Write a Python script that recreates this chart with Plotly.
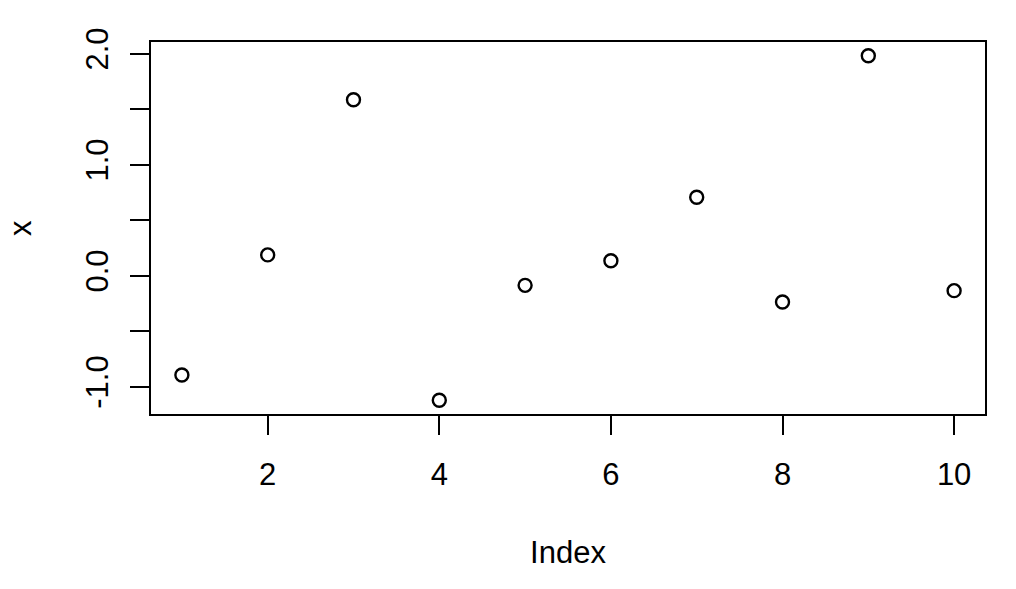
import plotly.graph_objects as go

index = [1, 2, 3, 4, 5, 6, 7, 8, 9, 10]
x_vals = [-0.895, 0.187, 1.585, -1.122, -0.087, 0.135, 0.707, -0.237, 1.981, -0.135]

x_ticks = [2, 4, 6, 8, 10]
y_ticks = [-1.0, -0.5, 0.0, 0.5, 1.0, 1.5, 2.0]
y_ticktext = ["-1.0", "", "0.0", "", "1.0", "", "2.0"]

x_title = "Index"
y_title = "x"

font = "Liberation Sans, Arial, sans-serif"

fig = go.Figure()
fig.add_trace(go.Scatter(
    x=index, y=x_vals, mode="markers",
    marker=dict(symbol="circle-open", size=13, color="black", line=dict(width=2.4, color="black")),
    showlegend=False, hoverinfo="x+y",
))

dx = (max(index) - min(index)) * 0.04
dy = (max(x_vals) - min(x_vals)) * 0.04

# page body adds an 8px offset; margins compensate so the box lands at 151..985 x 42..414
fig.update_layout(
    width=1016, height=589,
    margin=dict(l=143, r=39, t=34, b=183),
    paper_bgcolor="white", plot_bgcolor="white",
    font=dict(family=font, size=31, color="black"),
    xaxis=dict(
        range=[min(index) - dx, max(index) + dx],
        tickvals=x_ticks, ticktext=[str(v) for v in x_ticks],
        ticks="outside", ticklen=19, tickwidth=2, tickcolor="black",
        showline=True, linewidth=2, linecolor="black", mirror=True,
        showgrid=False, zeroline=False, automargin=False,
        ticklabelstandoff=13,
        title=dict(text=x_title, standoff=50, font=dict(size=31)),
    ),
    yaxis=dict(
        range=[min(x_vals) - dy, max(x_vals) + dy],
        tickvals=y_ticks, ticktext=y_ticktext, tickangle=-90,
        ticks="outside", ticklen=19, tickwidth=2, tickcolor="black",
        showline=True, linewidth=2, linecolor="black", mirror=True,
        showgrid=False, zeroline=False, automargin=False,
        ticklabelstandoff=10,
    ),
    annotations=[dict(
        text=y_title, xref="paper", yref="paper", x=-0.157, y=0.5,
        xanchor="center", yanchor="middle", textangle=-90, showarrow=False,
        font=dict(size=31, family=font, color="black"),
    )],
)

fig.write_html("out.html")
